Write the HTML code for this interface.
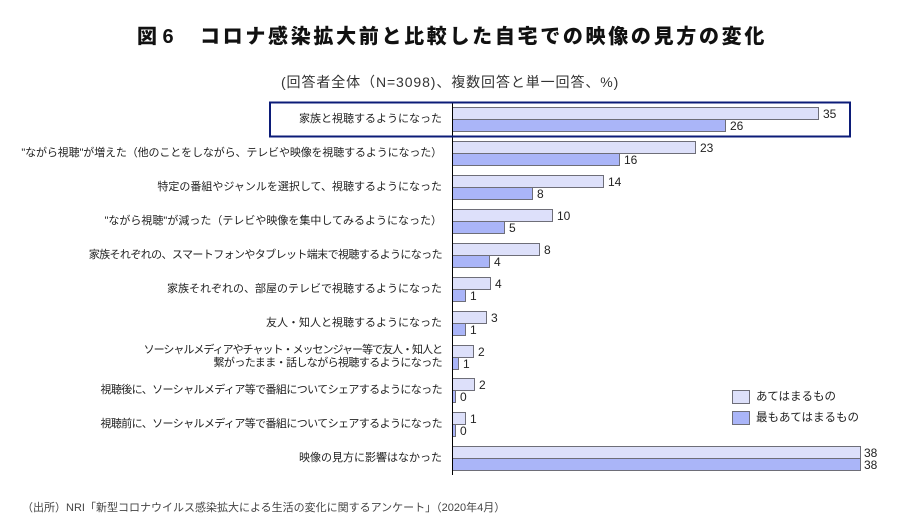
<!DOCTYPE html>
<html><head><meta charset="utf-8">
<style>
html,body{margin:0;padding:0;background:#fff;}
body{width:900px;height:530px;position:relative;overflow:hidden;font-family:"Liberation Sans","Noto Sans CJK JP",sans-serif;color:#222;}
.t{position:absolute;white-space:nowrap;}
.lab{position:absolute;right:458px;font-size:11px;line-height:13px;text-align:right;white-space:nowrap;color:#222;}
.v{position:absolute;font-size:12px;line-height:12px;white-space:nowrap;color:#222;}
svg{position:absolute;left:0;top:0;}
</style></head>
<body>
<svg width="900" height="530" viewBox="0 0 900 530" xmlns="http://www.w3.org/2000/svg">
<g stroke="#6e6e78" stroke-width="1">
<rect x="452.5" y="107.5" width="366" height="12" fill="#dde0fa"/>
<rect x="452.5" y="119.5" width="273" height="12" fill="#aab5f8"/>
<rect x="452.5" y="141.5" width="243" height="12" fill="#dde0fa"/>
<rect x="452.5" y="153.5" width="167" height="12" fill="#aab5f8"/>
<rect x="452.5" y="175.5" width="151" height="12" fill="#dde0fa"/>
<rect x="452.5" y="187.5" width="80" height="12" fill="#aab5f8"/>
<rect x="452.5" y="209.5" width="100" height="12" fill="#dde0fa"/>
<rect x="452.5" y="221.5" width="52" height="12" fill="#aab5f8"/>
<rect x="452.5" y="243.5" width="87" height="12" fill="#dde0fa"/>
<rect x="452.5" y="255.5" width="37" height="12" fill="#aab5f8"/>
<rect x="452.5" y="277.5" width="38" height="12" fill="#dde0fa"/>
<rect x="452.5" y="289.5" width="13" height="12" fill="#aab5f8"/>
<rect x="452.5" y="311.5" width="34" height="12" fill="#dde0fa"/>
<rect x="452.5" y="323.5" width="13" height="12" fill="#aab5f8"/>
<rect x="452.5" y="345.5" width="21" height="12" fill="#dde0fa"/>
<rect x="452.5" y="357.5" width="6" height="12" fill="#aab5f8"/>
<rect x="452.5" y="378.5" width="22" height="12" fill="#dde0fa"/>
<rect x="452.5" y="390.5" width="3" height="12" fill="#aab5f8"/>
<rect x="452.5" y="412.5" width="13" height="12" fill="#dde0fa"/>
<rect x="452.5" y="424.5" width="3" height="12" fill="#aab5f8"/>
<rect x="452.5" y="446.5" width="408" height="12" fill="#dde0fa"/>
<rect x="452.5" y="458.5" width="408" height="12" fill="#aab5f8"/>
<rect x="732.5" y="390.5" width="17" height="13" fill="#dde0fa"/>
<rect x="732.5" y="411.5" width="17" height="13" fill="#aab5f8"/>
</g>
<line x1="452.5" y1="102" x2="452.5" y2="475" stroke="#000" stroke-width="1"/>
<rect x="270" y="102.5" width="580" height="34" fill="none" stroke="#0c1c78" stroke-width="2"/>
</svg>

<div class="t" style="left:137px;top:26px;font-size:20px;line-height:22px;font-weight:900;color:#111;">図 6</div>
<div class="t" style="left:200px;top:26px;font-size:20px;line-height:22px;font-weight:900;letter-spacing:2.68px;color:#111;">コロナ感染拡大前と比較した自宅での映像の見方の変化</div>
<div class="t" style="left:281px;top:73px;font-size:14px;line-height:18px;letter-spacing:0.9px;color:#333;">(回答者全体（N=3098)、複数回答と単一回答、%)</div>

<div class="lab" style="top:113px;">家族と視聴するようになった</div>
<div class="lab" style="top:147px;letter-spacing:-0.13px;">"ながら視聴"が増えた（他のことをしながら、テレビや映像を視聴するようになった）</div>
<div class="lab" style="top:181px;">特定の番組やジャンルを選択して、視聴するようになった</div>
<div class="lab" style="top:215px;">"ながら視聴"が減った（テレビや映像を集中してみるようになった）</div>
<div class="lab" style="top:249px;letter-spacing:-0.6px;">家族それぞれの、スマートフォンやタブレット端末で視聴するようになった</div>
<div class="lab" style="top:283px;">家族それぞれの、部屋のテレビで視聴するようになった</div>
<div class="lab" style="top:317px;">友人・知人と視聴するようになった</div>
<div class="lab" style="top:344px;letter-spacing:-1px;">ソーシャルメディアやチャット・メッセンジャー等で友人・知人と</div>
<div class="lab" style="top:357px;letter-spacing:-0.6px;">繋がったまま・話しながら視聴するようになった</div>
<div class="lab" style="top:384px;letter-spacing:-0.6px;">視聴後に、ソーシャルメディア等で番組についてシェアするようになった</div>
<div class="lab" style="top:418px;letter-spacing:-0.6px;">視聴前に、ソーシャルメディア等で番組についてシェアするようになった</div>
<div class="lab" style="top:452px;">映像の見方に影響はなかった</div>

<div class="v" style="left:823px;top:108px;">35</div>
<div class="v" style="left:730px;top:120px;">26</div>
<div class="v" style="left:700px;top:142px;">23</div>
<div class="v" style="left:624px;top:154px;">16</div>
<div class="v" style="left:608px;top:176px;">14</div>
<div class="v" style="left:537px;top:188px;">8</div>
<div class="v" style="left:557px;top:210px;">10</div>
<div class="v" style="left:509px;top:222px;">5</div>
<div class="v" style="left:544px;top:244px;">8</div>
<div class="v" style="left:494px;top:256px;">4</div>
<div class="v" style="left:495px;top:278px;">4</div>
<div class="v" style="left:470px;top:290px;">1</div>
<div class="v" style="left:491px;top:312px;">3</div>
<div class="v" style="left:470px;top:324px;">1</div>
<div class="v" style="left:478px;top:346px;">2</div>
<div class="v" style="left:463px;top:358px;">1</div>
<div class="v" style="left:479px;top:379px;">2</div>
<div class="v" style="left:460px;top:391px;">0</div>
<div class="v" style="left:470px;top:413px;">1</div>
<div class="v" style="left:460px;top:425px;">0</div>
<div class="v" style="left:864px;top:447px;">38</div>
<div class="v" style="left:864px;top:459px;">38</div>

<div class="t" style="left:756px;top:390px;font-size:11.5px;line-height:14px;color:#222;">あてはまるもの</div>
<div class="t" style="left:756px;top:411px;font-size:11.5px;line-height:14px;color:#222;">最もあてはまるもの</div>

<div class="t" style="left:22px;top:501px;font-size:11px;line-height:14px;color:#444;">（出所）NRI「新型コロナウイルス感染拡大による生活の変化に関するアンケート」（2020年4月）</div>
</body></html>
